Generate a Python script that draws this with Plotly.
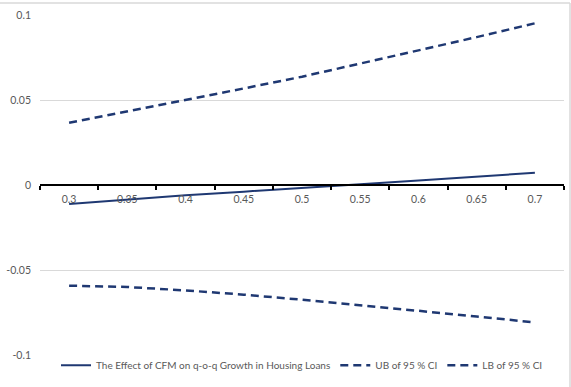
import plotly.graph_objects as go

# Threshold values on the category axis
thresholds = ["0.3", "0.35", "0.4", "0.45", "0.5", "0.55", "0.6", "0.65", "0.7"]

# Estimated effect and 95% confidence bounds
effect = [-0.0112, -0.0085, -0.0061, -0.0039, -0.0019, 0.0004, 0.0026, 0.0049, 0.0072]
upper_bound = [0.0366, 0.0432, 0.0500, 0.0568, 0.0637, 0.0713, 0.0792, 0.0870, 0.0951]
lower_bound = [-0.0592, -0.0600, -0.0620, -0.0645, -0.0675, -0.0706, -0.0740, -0.0774, -0.0808]

y_ticks = [0.1, 0.05, 0, -0.05, -0.1]
y_tick_labels = ["0.1", "0.05", "0", "-0.05", "-0.1"]

navy = "#1f3872"
font_family = "Lato, 'Liberation Sans', sans-serif"

# Plot area geometry in pixels (used to place the chart frame)
W, H = 571, 387
ML, MR, MT, MB = 40, 7, 15, 32
PW, PH = W - ML - MR, H - MT - MB


def px_x(p):
    return (p - ML) / PW


def px_y(p):
    return (H - MB - p) / PH


fig = go.Figure()
fig.add_trace(go.Scatter(
    x=thresholds, y=effect, mode="lines",
    name="The Effect of CFM on q-o-q Growth in Housing Loans",
    line=dict(color=navy, width=2),
))
fig.add_trace(go.Scatter(
    x=thresholds, y=upper_bound, mode="lines",
    name="UB of 95 % CI",
    line=dict(color=navy, width=2.5, dash="8px,5px"),
))
fig.add_trace(go.Scatter(
    x=thresholds, y=lower_bound, mode="lines",
    name="LB of 95 % CI",
    line=dict(color=navy, width=2.5, dash="8px,5px"),
))

frame = [
    dict(type="line", xref="paper", yref="paper",
         x0=px_x(0), x1=px_x(570), y0=px_y(3), y1=px_y(3),
         line=dict(color="#d9d9d9", width=1.5)),
    dict(type="line", xref="paper", yref="paper",
         x0=px_x(570), x1=px_x(570), y0=px_y(3), y1=px_y(387),
         line=dict(color="#d9d9d9", width=1.5)),
]

fig.update_layout(
    width=W, height=H,
    margin=dict(l=ML, r=MR, t=MT, b=MB),
    paper_bgcolor="white", plot_bgcolor="white",
    font=dict(family=font_family, size=10, color="#595959"),
    showlegend=True,
    legend=dict(
        orientation="h", x=0.5, xanchor="center", y=-0.03, yanchor="middle",
        font=dict(size=10, color="#595959"), itemwidth=30,
        bgcolor="rgba(0,0,0,0)",
    ),
    xaxis=dict(
        type="category", range=[-0.5, 8.5],
        anchor="free", position=0.5,
        showline=True, linecolor="black", linewidth=1.5,
        ticks="outside", tickson="boundaries", ticklen=4, tickcolor="black", tickwidth=1.5,
        ticklabelstandoff=5,
        showgrid=False, zeroline=False,
        tickfont=dict(size=10.5, color="#595959"),
    ),
    yaxis=dict(
        range=[-0.1, 0.1],
        tickvals=y_ticks, ticktext=y_tick_labels,
        showgrid=True, gridcolor="#d9d9d9", gridwidth=1,
        zeroline=False, showline=False, ticks="",
        ticklabelstandoff=8,
        tickfont=dict(size=10.5, color="#595959"),
    ),
    shapes=frame,
)

fig.write_html("out.html")
